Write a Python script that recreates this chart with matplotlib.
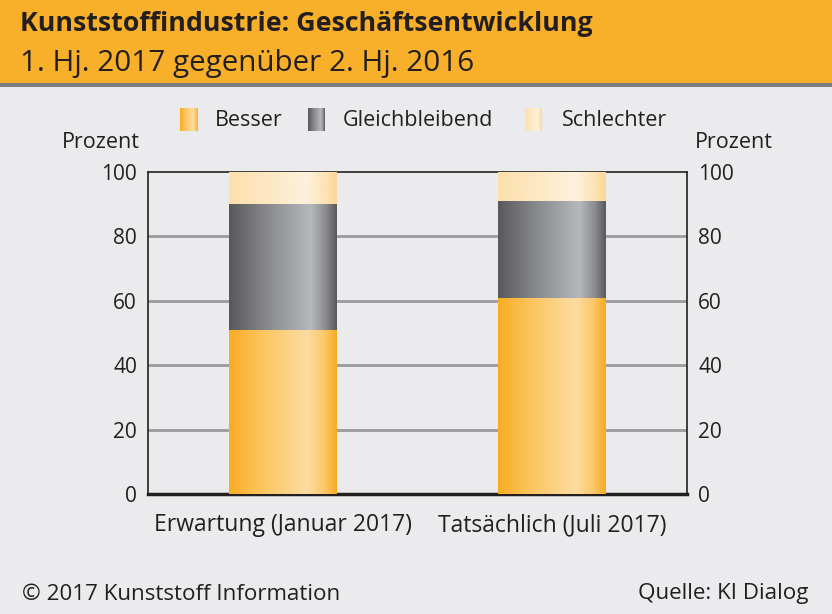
import numpy as np
import matplotlib
matplotlib.use("Agg")
import matplotlib.pyplot as plt
from matplotlib.colors import LinearSegmentedColormap
from matplotlib.patches import Rectangle

plt.rcParams['font.family'] = ['Open Sans', 'DejaVu Sans']

# ---- data ----
categories = ["Erwartung (Januar 2017)", "Tatsächlich (Juli 2017)"]
series_names = ["Besser", "Gleichbleibend", "Schlechter"]
besser = [51, 61]
gleich = [39, 30]
schlechter = [10, 9]
yticks = [0, 20, 40, 60, 80, 100]

title = "Kunststoffindustrie: Geschäftsentwicklung"
subtitle = "1. Hj. 2017 gegenüber 2. Hj. 2016"
ylabel = "Prozent"
footer_left = "© 2017 Kunststoff Information"
footer_right = "Quelle: KI Dialog"

# ---- styles ----
BG = "#ebebed"
ORANGE = "#f8b02a"
TXT = "#231f20"
grads = {
    "Besser": [(0.0, "#f8ad22"), (0.35, "#fcc866"), (0.72, "#fddca2"), (0.88, "#fcc86a"), (1.0, "#f7ab22")],
    "Gleichbleibend": [(0.0, "#59595b"), (0.35, "#88898c"), (0.76, "#b7b8bb"), (0.9, "#8a8b8e"), (1.0, "#5a5a5c")],
    "Schlechter": [(0.0, "#fde0ab"), (0.4, "#fde9c6"), (0.72, "#fdf1de"), (0.9, "#fde3b4"), (1.0, "#fdd795")],
}
cmaps = {k: LinearSegmentedColormap.from_list(k, v) for k, v in grads.items()}
grad_img = np.linspace(0, 1, 256).reshape(1, -1)

fig = plt.figure(figsize=(8.32, 6.14), dpi=100, facecolor=BG)

# header band
fig.patches.append(Rectangle((0, 1 - 82.5 / 614), 1, 82.5 / 614, transform=fig.transFigure,
                             facecolor=ORANGE, edgecolor="none", zorder=0))
fig.patches.append(Rectangle((0, 1 - 86.5 / 614), 1, 4 / 614, transform=fig.transFigure,
                             facecolor="#7d7d7f", edgecolor="none", zorder=0))
fig.text(20 / 832, 1 - 24 / 614, title, fontsize=19.3, fontweight="bold", color=TXT,
         va="center", ha="left")
fig.text(20 / 832, 1 - 63 / 614, subtitle, fontsize=21.3, color=TXT, va="center", ha="left")

ax = fig.add_axes([148 / 832, 120 / 614, 539 / 832, 322 / 614])
ax.set_facecolor(BG)
ax.set_xlim(-0.5, 1.5)
ax.set_ylim(0, 100)

x = np.arange(len(categories))
width = 0.4
bottoms = np.zeros(len(categories))
for name, vals in zip(series_names, [besser, gleich, schlechter]):
    bars = ax.bar(x, vals, width, bottom=bottoms, color="none", edgecolor="none", zorder=3)
    for b in bars:
        x0, y0, w, h = b.get_x(), b.get_y(), b.get_width(), b.get_height()
        im = ax.imshow(grad_img, cmap=cmaps[name], aspect="auto",
                       extent=(x0, x0 + w, y0, y0 + h), zorder=3, interpolation="bilinear")
        im.set_clip_path(b)
    bottoms = bottoms + np.array(vals)
ax.set_xlim(-0.5, 1.5)
ax.set_ylim(0, 100)

for yv in yticks[1:-1]:
    ax.axhline(yv, color="#9b9b9d", lw=2, zorder=1)

for s in ["left", "right", "top"]:
    ax.spines[s].set_color("#231f20")
    ax.spines[s].set_linewidth(1.2)
ax.spines["bottom"].set_color("#231f20")
ax.spines["bottom"].set_linewidth(2.5)
ax.spines["top"].set_zorder(2)

ax.set_yticks(yticks)
ax.tick_params(axis="y", length=0, labelsize=15, labelcolor=TXT, pad=8,
               left=False, right=False, labelleft=True, labelright=True)
ax.set_xticks(x)
ax.set_xticklabels(categories)
ax.tick_params(axis="x", length=0, labelsize=16.5, labelcolor=TXT, pad=14)

fig.text(101 / 832, 1 - 142 / 614, ylabel, fontsize=15.5, color=TXT, ha="center", va="center")
fig.text(734 / 832, 1 - 142 / 614, ylabel, fontsize=15.5, color=TXT, ha="center", va="center")

# legend
sw_w, sw_h = 17 / 832, 23 / 614
leg_y = 1 - 131 / 614
for name, sx, tx in zip(series_names, [180, 308, 525], [215, 343, 562]):
    lax = fig.add_axes([sx / 832, leg_y, sw_w, sw_h])
    lax.imshow(grad_img, cmap=cmaps[name], aspect="auto", extent=(0, 1, 0, 1))
    lax.set_axis_off()
    fig.text(tx / 832, 1 - 121 / 614, name, fontsize=15.5, color=TXT, ha="left", va="center")

fig.text(22 / 832, 1 - 594 / 614, footer_left, fontsize=16.1, color=TXT, ha="left", va="center")
fig.text(808 / 832, 1 - 594 / 614, footer_right, fontsize=16.1, color=TXT, ha="right", va="center")

fig.savefig("out.png", dpi=100, facecolor=BG)
